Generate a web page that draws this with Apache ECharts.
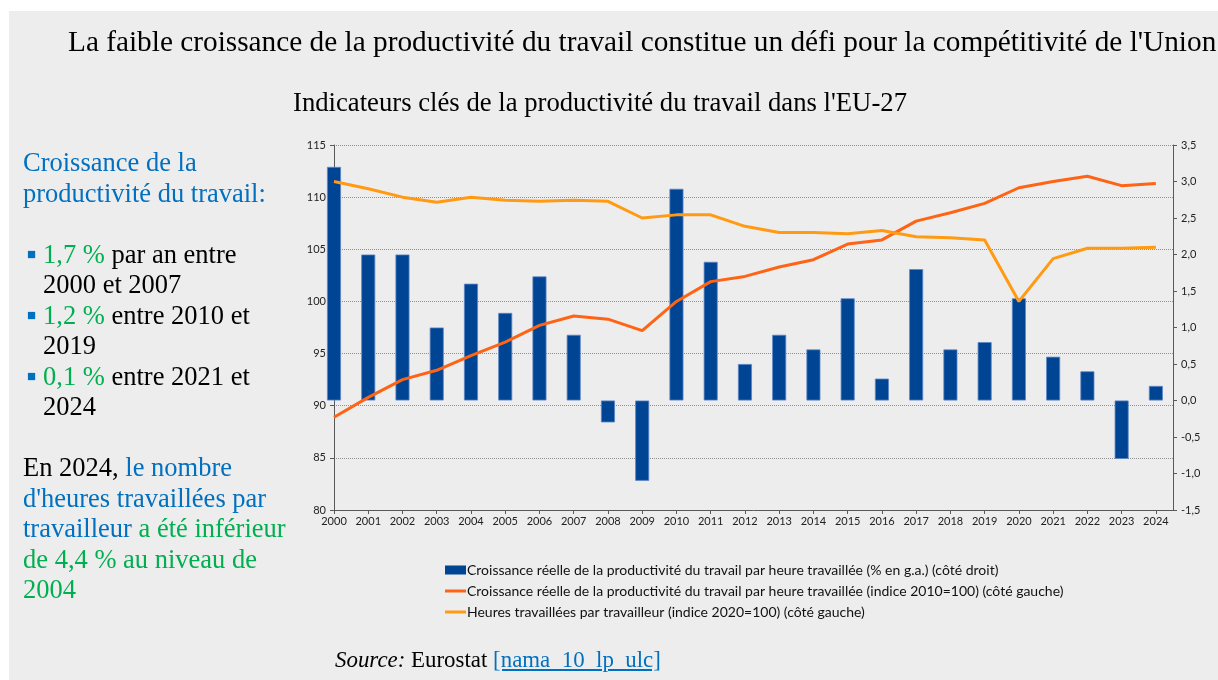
<!DOCTYPE html>
<html>
<head>
<meta charset="utf-8">
<script src="https://cdn.jsdelivr.net/npm/echarts@6/dist/echarts.min.js"></script>
<style>
  body { margin: 0; background: #fff; width: 1218px; height: 680px; overflow: hidden; position: relative; }
  #panel { position: absolute; left: 9px; top: 11px; width: 1209px; height: 669px; background: #ededed; }
  #chart { position: absolute; left: 0; top: 0; width: 1218px; height: 680px; }
  .serif { font-family: "Liberation Serif", "Times New Roman", serif; position: absolute; white-space: nowrap; }
  #head { left: 68px; top: 25px; font-size: 29.3px; color: #000; }
  #side { left: 23px; top: 147px; font-size: 26.5px; line-height: 30.5px; color: #000; }
  #side div { height: 30.5px; }
  #src { left: 335px; top: 647px; font-size: 22.9px; color: #000; }
  .b { color: #0070c0; }
  .g { color: #00b050; }
  .bul { color: #0070c0; font-size: 15px; line-height: 1; display: inline-block; width: 16px; padding-left: 4px; vertical-align: 4px; }
  .ind { padding-left: 20px; }
  a { color: #0070c0; text-decoration: underline; }
</style>
</head>
<body>
<div id="panel"></div>
<div id="chart"></div>
<div id="head" class="serif">La faible croissance de la productivité du travail constitue un défi pour la compétitivité de l'Union</div>
<div id="side" class="serif">
  <div class="b">Croissance de la</div>
  <div class="b">productivité du travail:</div>
  <div>&nbsp;</div>
  <div><span class="bul">&#9632;</span><span class="g">1,7 %</span> par an entre</div>
  <div class="ind">2000 et 2007</div>
  <div><span class="bul">&#9632;</span><span class="g">1,2 %</span> entre 2010 et</div>
  <div class="ind">2019</div>
  <div><span class="bul">&#9632;</span><span class="g">0,1 %</span> entre 2021 et</div>
  <div class="ind">2024</div>
  <div>&nbsp;</div>
  <div>En 2024, <span class="b">le nombre</span></div>
  <div class="b">d'heures travaillées par</div>
  <div><span class="b">travailleur</span> <span class="g">a été inférieur</span></div>
  <div class="g">de 4,4 % au niveau de</div>
  <div class="g">2004</div>
</div>
<div id="src" class="serif"><i>Source:</i> Eurostat <a>[nama_10_lp_ulc]</a></div>
<script>
// years on the category scale
const years = [2000, 2001, 2002, 2003, 2004, 2005, 2006, 2007, 2008, 2009, 2010, 2011, 2012,
  2013, 2014, 2015, 2016, 2017, 2018, 2019, 2020, 2021, 2022, 2023, 2024];

// real labour productivity growth per hour worked, % y/y (right axis)
const growthPct = [3.2, 2.0, 2.0, 1.0, 1.6, 1.2, 1.7, 0.9, -0.3, -1.1, 2.9, 1.9, 0.5,
  0.9, 0.7, 1.4, 0.3, 1.8, 0.7, 0.8, 1.4, 0.6, 0.4, -0.8, 0.2];

// real labour productivity per hour worked, index 2010=100 (left axis)
const prodIndex = [88.9, 90.8, 92.5, 93.4, 94.8, 96.1, 97.7, 98.6, 98.3, 97.2, 100.0, 101.9, 102.4,
  103.3, 104.0, 105.5, 105.9, 107.7, 108.5, 109.4, 110.9, 111.5, 112.0, 111.1, 111.3];

// hours worked per worker, index 2020=100 (left axis)
const hoursIndex = [111.5, 110.8, 110.0, 109.5, 110.0, 109.7, 109.6, 109.7, 109.6, 108.0, 108.3, 108.3, 107.2,
  106.6, 106.6, 106.5, 106.8, 106.2, 106.1, 105.9, 100.0, 104.1, 105.1, 105.1, 105.2];

const seriesNames = [
  'Croissance réelle de la productivité du travail par heure travaillée (% en g.a.) (côté droit)',
  'Croissance réelle de la productivité du travail par heure travaillée (indice 2010=100) (côté gauche)',
  'Heures travaillées par travailleur (indice 2020=100) (côté gauche)'
];

const pair = (arr) => years.map((y, i) => [y, arr[i]]);

const axisFont = { fontFamily: 'Lato', fontSize: 11, color: '#222' };
const axisLineStyle = { color: '#595959', width: 1 };
const lineIcon = 'path://M0,0H21V3H0Z';

const chart = echarts.init(document.getElementById('chart'), null, { renderer: 'canvas' });

chart.setOption({
  backgroundColor: 'transparent',
  animation: false,
  title: {
    text: "Indicateurs clés de la productivité du travail dans l'EU-27",
    left: 288,
    top: 85,
    textStyle: { fontFamily: 'Liberation Serif', fontSize: 26.7, fontWeight: 'normal', color: '#000' }
  },
  legend: {
    orient: 'vertical',
    left: 440,
    top: 558,
    itemGap: 7,
    itemWidth: 21,
    itemHeight: 9,
    textStyle: { fontFamily: 'Lato', fontSize: 14, color: '#111', padding: [0, 0, 0, -4] },
    data: [
      { name: seriesNames[0], icon: 'rect', itemStyle: { borderWidth: 0 } },
      { name: seriesNames[1], icon: lineIcon },
      { name: seriesNames[2], icon: lineIcon }
    ]
  },
  grid: { left: 334, top: 145, width: 839, height: 365, containLabel: false },
  xAxis: {
    type: 'value',
    min: 2000,
    max: 2024.5,
    interval: 1,
    axisLine: { show: true, onZero: false, lineStyle: axisLineStyle },
    axisTick: { show: true, inside: false, length: 4, lineStyle: axisLineStyle },
    axisLabel: Object.assign({}, axisFont, {
      margin: 6,
      showMaxLabel: false,
      formatter: (v) => Number.isInteger(v) ? String(v) : ''
    }),
    splitLine: { show: false }
  },
  yAxis: [
    {
      type: 'value',
      min: 80,
      max: 115,
      interval: 5,
      position: 'left',
      axisLine: { show: true, lineStyle: axisLineStyle },
      axisTick: { show: true, inside: false, length: 4, lineStyle: axisLineStyle },
      axisLabel: Object.assign({}, axisFont, { margin: 8 }),
      splitLine: { show: true, lineStyle: { color: '#8f8f8f', type: 'dotted', width: 1 } }
    },
    {
      type: 'value',
      min: -1.5,
      max: 3.5,
      interval: 0.5,
      position: 'right',
      axisLine: { show: true, lineStyle: axisLineStyle },
      axisTick: { show: true, inside: false, length: 4, lineStyle: axisLineStyle },
      axisLabel: Object.assign({}, axisFont, {
        margin: 8,
        formatter: (v) => v.toFixed(1).replace('.', ',')
      }),
      splitLine: { show: false }
    }
  ],
  series: [
    {
      name: seriesNames[0],
      type: 'bar',
      yAxisIndex: 1,
      barWidth: 14,
      clip: true,
      itemStyle: { color: '#004494', borderColor: '#5d86c6', borderWidth: 0.8 },
      data: pair(growthPct),
      z: 2
    },
    {
      name: seriesNames[1],
      type: 'line',
      yAxisIndex: 0,
      symbol: 'none',
      lineStyle: { color: '#ff6414', width: 3 },
      itemStyle: { color: '#ff6414' },
      data: pair(prodIndex),
      z: 3
    },
    {
      name: seriesNames[2],
      type: 'line',
      yAxisIndex: 0,
      symbol: 'none',
      lineStyle: { color: '#ff9a12', width: 3 },
      itemStyle: { color: '#ff9a12' },
      data: pair(hoursIndex),
      z: 4
    }
  ]
});
</script>
</body>
</html>
